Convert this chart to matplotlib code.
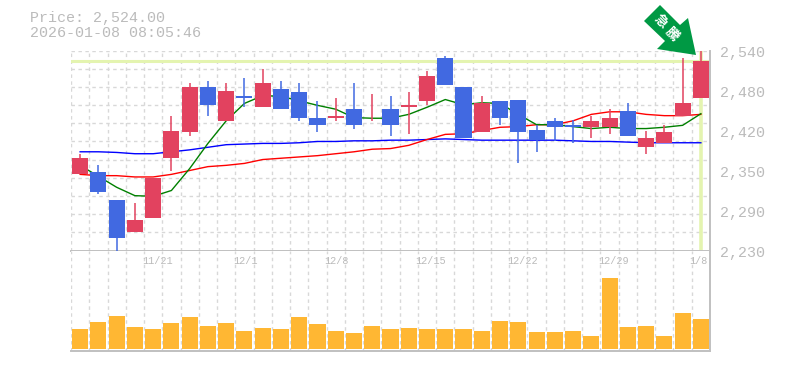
import matplotlib
matplotlib.use("Agg")
import matplotlib.pyplot as plt
from matplotlib.patches import Polygon
from matplotlib.transforms import IdentityTransform
import numpy as np

W, H = 785, 370

opens = [2349, 2351, 2308, 2259, 2281, 2373, 2414, 2483, 2431, 2470, 2452, 2481,
         2476, 2436, 2435, 2449, 2449, 2450, 2453, 2462, 2529, 2483, 2413, 2461,
         2464, 2416, 2430, 2425, 2422, 2421, 2447, 2390, 2396, 2439, 2466]
highs = [2379, 2363, 2308, 2303, 2343, 2439, 2489, 2493, 2490, 2498, 2511, 2493,
         2489, 2461, 2467, 2490, 2473, 2470, 2476, 2509, 2531, 2483, 2470, 2462,
         2464, 2425, 2435, 2433, 2438, 2450, 2459, 2416, 2425, 2529, 2540]
lows = [2349, 2317, 2230, 2259, 2281, 2354, 2407, 2439, 2431, 2453, 2452, 2449,
        2430, 2413, 2431, 2418, 2430, 2408, 2411, 2456, 2486, 2404, 2413, 2424,
        2365, 2382, 2399, 2396, 2404, 2410, 2407, 2379, 2396, 2439, 2466]
closes = [2374, 2321, 2250, 2278, 2343, 2416, 2483, 2456, 2478, 2466, 2490, 2449,
          2435, 2424, 2439, 2424, 2450, 2424, 2456, 2501, 2486, 2405, 2459, 2436,
          2414, 2402, 2421, 2422, 2431, 2436, 2407, 2404, 2414, 2459, 2524]
volumes = [20, 27, 33, 22, 20, 26, 32, 23, 26, 18, 21, 20, 32, 25, 18, 16, 23, 20,
           21, 20, 20, 20, 18, 28, 27, 17, 17, 18, 13, 71, 22, 23, 13, 36, 30]

ma_short = [2362, 2345, 2328, 2315, 2314, 2323, 2357, 2396, 2431, 2458, 2470, 2469,
            2462, 2455, 2449, 2436, 2435, 2435, 2441, 2452, 2464, 2456, 2459, 2458,
            2441, 2425, 2425, 2422, 2419, 2421, 2419, 2419, 2421, 2424, 2442]
ma_mid = [2348, 2346, 2346, 2344, 2344, 2348, 2354, 2360, 2362, 2365, 2371, 2373,
          2375, 2377, 2380, 2383, 2387, 2388, 2393, 2402, 2410, 2411, 2416, 2421,
          2422, 2425, 2425, 2431, 2441, 2445, 2445, 2441, 2439, 2439, 2441]
ma_long = [2383, 2383, 2382, 2380, 2380, 2383, 2386, 2390, 2394, 2395, 2396, 2396,
           2397, 2399, 2399, 2400, 2400, 2401, 2401, 2402, 2403, 2402, 2401, 2401,
           2401, 2401, 2401, 2400, 2399, 2399, 2398, 2397, 2397, 2397, 2397]

y_labels = ["2,540", "2,480", "2,420", "2,350", "2,290", "2,230"]
date_pos = [4, 9, 14, 19, 24, 29, 34]
date_labels = ["11/21", "12/1", "12/8", "12/15", "12/22", "12/29", "1/8"]
last_price = 2524

RED = "#e2425f"
BLUE = "#4169e1"
ORANGE = "#ffb733"
BAND = "#e4f4b0"
GRID = "#d8d8d8"
AXIS = "#c0c0c0"
TEXT = "#bbbbbb"
MONO = "Liberation Mono"

fig = plt.figure(figsize=(W / 100, H / 100), dpi=100)


def px_axes(left, top, right, bottom):
    return fig.add_axes([left / W, 1 - bottom / H, (right - left) / W, (bottom - top) / H])


ax = px_axes(71, 50.5, 710, 250.5)
vax = px_axes(71, 250.5, 710, 350.5)
x = np.arange(len(closes))

for a in (ax, vax):
    a.set_xlim(-0.5, len(closes) - 0.5)
    a.set_xticks(x - 0.5)
    a.tick_params(length=0, labelbottom=False, labelleft=False)
    a.grid(True, axis="x", color=GRID, linestyle=(0, (2.5, 2.5)), linewidth=1)
    a.set_axisbelow(True)
    for side in ("left", "top"):
        a.spines[side].set_visible(False)
    for side in ("right", "bottom"):
        a.spines[side].set_color(AXIS)
        a.spines[side].set_linewidth(1.4)

# price panel
ax.set_ylim(2230, 2540)
ax.set_yticks(np.linspace(2230, 2540, 12))
ax.grid(True, axis="y", color=GRID, linestyle=(0, (2.5, 2.5)), linewidth=1)
ax.axhline(last_price, color=BAND, linewidth=2.2, zorder=1)
ax.axvline(x[-1], color=BAND, linewidth=2.6, zorder=1)
ax.plot(x, ma_long, color="#0000ff", linewidth=1, zorder=2)
ax.plot(x, ma_mid, color="#ff0000", linewidth=1, zorder=2)
ax.plot(x, ma_short, color="#008000", linewidth=1, zorder=2)

colors = [RED if c >= o else BLUE for o, c in zip(opens, closes)]
ax.vlines(x, lows, highs, colors=colors, linewidth=1.1, zorder=3, clip_on=False)
bottoms = np.minimum(opens, closes)
heights = np.abs(np.array(closes) - np.array(opens))
ax.bar(x, heights, bottom=bottoms, width=0.88, color=colors, zorder=4)

for i, label in enumerate(y_labels):
    fig.text(720 / W, 1 - (53.5 + 40 * i) / H, label, color=TEXT, family=MONO, fontsize=10.8,
             ha="left", va="center")

# volume panel
vax.set_ylim(-2, 98)
vax.set_yticks([])
vax.bar(x, volumes, width=0.88, color=ORANGE, zorder=3)
for pos, label in zip(date_pos, date_labels):
    vax.text(pos - 0.62, 87, label, color=TEXT, family=MONO, fontsize=7.3, ha="left", va="center", zorder=5)

fig.text(30 / W, 1 - 18 / H, "Price: 2,524.00", color=TEXT, family=MONO, fontsize=10.8, va="center")
fig.text(30 / W, 1 - 33 / H, "2026-01-08 08:05:46", color=TEXT, family=MONO, fontsize=10.8, va="center")

# arrow badge, in pixels from the top left
arrow = [(660, 5), (644, 21), (665, 41), (657, 49), (696, 55), (688, 18), (680, 25)]
arrow = [(px, H - py) for px, py in arrow]
fig.add_artist(Polygon(arrow, closed=True, facecolor="#009944", edgecolor="none",
                       transform=IdentityTransform(), zorder=6))
for ch, px, py in [("急", 660.5, 21), ("騰", 672, 34)]:
    fig.text(px / W, 1 - py / H, ch, color="white", fontsize=9.5, fontweight="bold", rotation=-45,
             rotation_mode="anchor", ha="center", va="center",
             family=["Noto Sans CJK JP", "DejaVu Sans"], zorder=7)

fig.savefig("out.png", dpi=100)
